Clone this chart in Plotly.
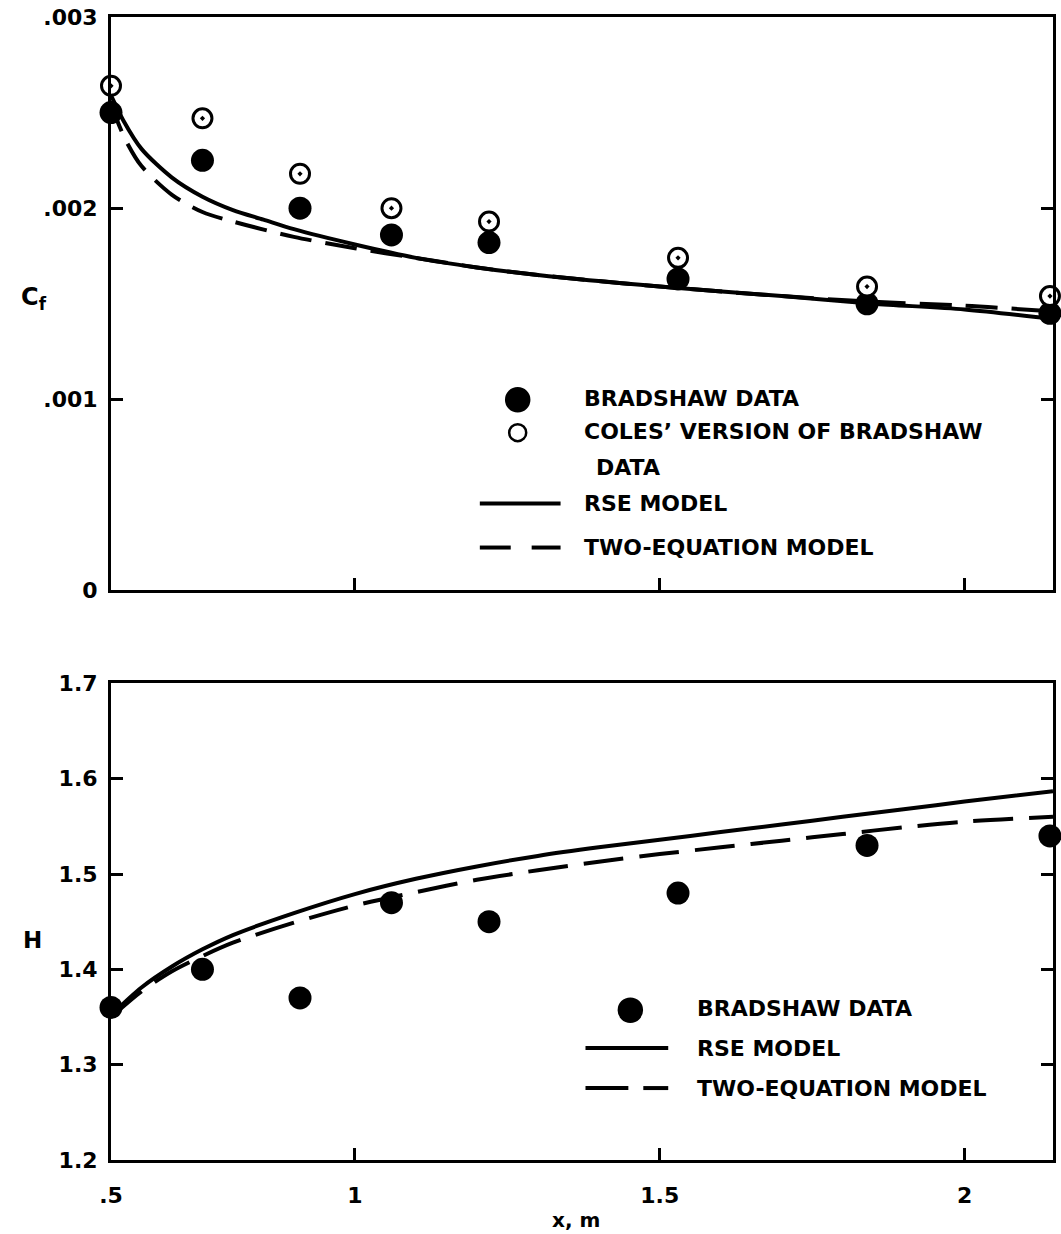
import plotly.graph_objects as go

# ---- skin friction, top panel ----
x_data = [0.6, 0.75, 0.91, 1.06, 1.22, 1.53, 1.84, 2.14]
cf_bradshaw = [0.00250, 0.00225, 0.00200, 0.00186, 0.00182, 0.00163, 0.00150, 0.00145]
cf_coles = [0.00264, 0.00247, 0.00218, 0.00200, 0.00193, 0.00174, 0.00159, 0.00154]

x_cf_rse = [0.6, 0.62, 0.65, 0.7, 0.75, 0.8, 0.85, 0.9, 1.0, 1.1, 1.2, 1.3, 1.5, 1.7, 1.85, 2.0, 2.145]
cf_rse = [0.00259, 0.00246, 0.00231, 0.00216, 0.00206, 0.00199, 0.00194, 0.00189, 0.00181, 0.00174,
          0.00169, 0.00165, 0.00159, 0.00154, 0.00150, 0.00147, 0.00142]

x_cf_two = [0.6, 0.61, 0.625, 0.65, 0.7, 0.75, 0.8, 0.9, 1.0, 1.1, 1.2, 1.3, 1.5, 1.7, 1.85, 2.0, 2.145]
cf_two = [0.00256, 0.00246, 0.00235, 0.00222, 0.00207, 0.00198, 0.00193, 0.00185, 0.00179, 0.00174,
          0.00169, 0.00165, 0.00159, 0.00154, 0.00151, 0.00149, 0.00146]

# ---- shape factor, bottom panel ----
h_bradshaw = [1.36, 1.40, 1.37, 1.47, 1.45, 1.48, 1.53, 1.54]

x_h = [0.6, 0.65, 0.7, 0.75, 0.8, 0.9, 1.0, 1.1, 1.2, 1.3, 1.4, 1.5, 1.6, 1.7, 1.8, 1.9, 2.0, 2.145]
h_rse = [1.352, 1.381, 1.403, 1.421, 1.436, 1.459, 1.479, 1.495, 1.508, 1.519, 1.528, 1.536,
         1.544, 1.552, 1.560, 1.568, 1.576, 1.587]
h_two = [1.350, 1.377, 1.398, 1.414, 1.428, 1.449, 1.467, 1.481, 1.494, 1.504, 1.513, 1.521,
         1.528, 1.535, 1.542, 1.549, 1.555, 1.560]

x_tickvals = [0.6, 1.0, 1.5, 2.0]
x_ticktext = [".5", "1", "1.5", "2"]
cf_tickvals = [0, 0.001, 0.002, 0.003]
cf_ticktext = ["0", ".001", ".002", ".003"]
h_tickvals = [1.2, 1.3, 1.4, 1.5, 1.6, 1.7]
h_ticktext = ["1.2", "1.3", "1.4", "1.5", "1.6", "1.7"]

W, H = 1061, 1234
ML, MR, MT, MB = 111, 5, 16, 74
FONT = "DejaVu Sans"
BLACK = "#000000"


def px(xp):
    return (xp - ML) / (W - ML - MR)


def py(yp):
    return (H - MB - yp) / (H - MT - MB)


fig = go.Figure()

line_w = 4
mk = 23

# top panel
fig.add_trace(go.Scatter(x=x_cf_rse, y=cf_rse, xaxis="x2", yaxis="y2", mode="lines",
                         line=dict(color=BLACK, width=line_w, shape="spline", smoothing=0.8),
                         cliponaxis=False))
fig.add_trace(go.Scatter(x=x_cf_two, y=cf_two, xaxis="x2", yaxis="y2", mode="lines",
                         line=dict(color=BLACK, width=line_w, dash="32px,14px", shape="spline",
                                   smoothing=0.8),
                         cliponaxis=False))
fig.add_trace(go.Scatter(x=x_data, y=cf_bradshaw, xaxis="x2", yaxis="y2", mode="markers",
                         marker=dict(symbol="circle", size=mk, color=BLACK), cliponaxis=False))
fig.add_trace(go.Scatter(x=x_data, y=cf_coles, xaxis="x2", yaxis="y2", mode="markers",
                         marker=dict(symbol="circle-dot", size=19, color="white",
                                     line=dict(color=BLACK, width=3)), cliponaxis=False))

# bottom panel
fig.add_trace(go.Scatter(x=x_h, y=h_rse, xaxis="x", yaxis="y", mode="lines",
                         line=dict(color=BLACK, width=line_w, shape="spline", smoothing=0.8),
                         cliponaxis=False))
fig.add_trace(go.Scatter(x=x_h, y=h_two, xaxis="x", yaxis="y", mode="lines",
                         line=dict(color=BLACK, width=line_w, dash="40px,16px", shape="spline",
                                   smoothing=0.8),
                         cliponaxis=False))
fig.add_trace(go.Scatter(x=x_data, y=h_bradshaw, xaxis="x", yaxis="y", mode="markers",
                         marker=dict(symbol="circle", size=mk, color=BLACK), cliponaxis=False))

tick_font = dict(family=FONT, size=22, color=BLACK, weight="bold")
axis_common = dict(showline=True, linecolor=BLACK, linewidth=3, showgrid=False, zeroline=False,
                   ticks="inside", ticklen=12, tickwidth=2.5, tickcolor=BLACK, tickfont=tick_font)

x_range = [0.6, 2.145]

fig.update_layout(
    width=W, height=H,
    margin=dict(l=ML, r=MR, t=MT, b=MB),
    paper_bgcolor="white", plot_bgcolor="white",
    showlegend=False,
    xaxis=dict(axis_common, range=x_range, anchor="y", domain=[0, 1], mirror=True,
               tickvals=x_tickvals, ticktext=x_ticktext, ticklabelstandoff=14),
    yaxis=dict(axis_common, range=[1.2, 1.7], anchor="x", domain=[0, py(683)], mirror="ticks",
               tickvals=h_tickvals, ticktext=h_ticktext, ticklabelstandoff=6),
    xaxis2=dict(axis_common, range=x_range, anchor="y2", domain=[0, 1], mirror=True,
                tickvals=[1.0, 1.5, 2.0], showticklabels=False),
    yaxis2=dict(axis_common, range=[0, 0.003], anchor="x2", domain=[py(590), 1], mirror="ticks",
                tickvals=cf_tickvals, ticktext=cf_ticktext, ticklabelstandoff=6),
)

label_font = dict(family=FONT, size=22, color=BLACK, weight="bold")
annotations = []
shapes = []


def add_text(text, xp, yp, size=22, anchor="left"):
    annotations.append(dict(text=text, x=px(xp), y=py(yp), xref="paper", yref="paper",
                            xanchor=anchor, yanchor="middle", showarrow=False,
                            font=dict(label_font, size=size)))


def add_dot(xp, yp, r, filled):
    shapes.append(dict(type="circle", xref="paper", yref="paper", xsizemode="pixel",
                       ysizemode="pixel", xanchor=px(xp), yanchor=py(yp),
                       x0=-r, x1=r, y0=-r, y1=r,
                       fillcolor=BLACK if filled else "white",
                       line=dict(color=BLACK, width=2.5)))


def add_seg(x0, x1, yp):
    shapes.append(dict(type="line", xref="paper", yref="paper", x0=px(x0), x1=px(x1),
                       y0=py(yp), y1=py(yp), line=dict(color=BLACK, width=4)))


# axis titles
add_text("C<sub>f</sub>", 34, 298, size=24, anchor="center")
add_text("H", 32, 940, size=23, anchor="center")
add_text("x, m", 577, 1220, size=20, anchor="center")

# top legend
add_dot(519, 399, 11.5, True)
add_text("BRADSHAW DATA", 584, 398)
add_dot(519, 432, 8.5, False)
add_text("COLES\u2019 VERSION OF BRADSHAW", 584, 431)
add_text("DATA", 596, 467)
add_seg(481, 562, 503)
add_text("RSE MODEL", 584, 503)
add_seg(481, 512, 547)
add_seg(533, 562, 547)
add_text("TWO-EQUATION MODEL", 584, 547)

# bottom legend
add_dot(632, 1010, 11.5, True)
add_text("BRADSHAW DATA", 697, 1008)
add_seg(587, 670, 1048)
add_text("RSE MODEL", 697, 1048)
add_seg(587, 630, 1088)
add_seg(645, 670, 1088)
add_text("TWO-EQUATION MODEL", 697, 1088)

fig.update_layout(annotations=annotations, shapes=shapes)

fig.write_html("out.html")
